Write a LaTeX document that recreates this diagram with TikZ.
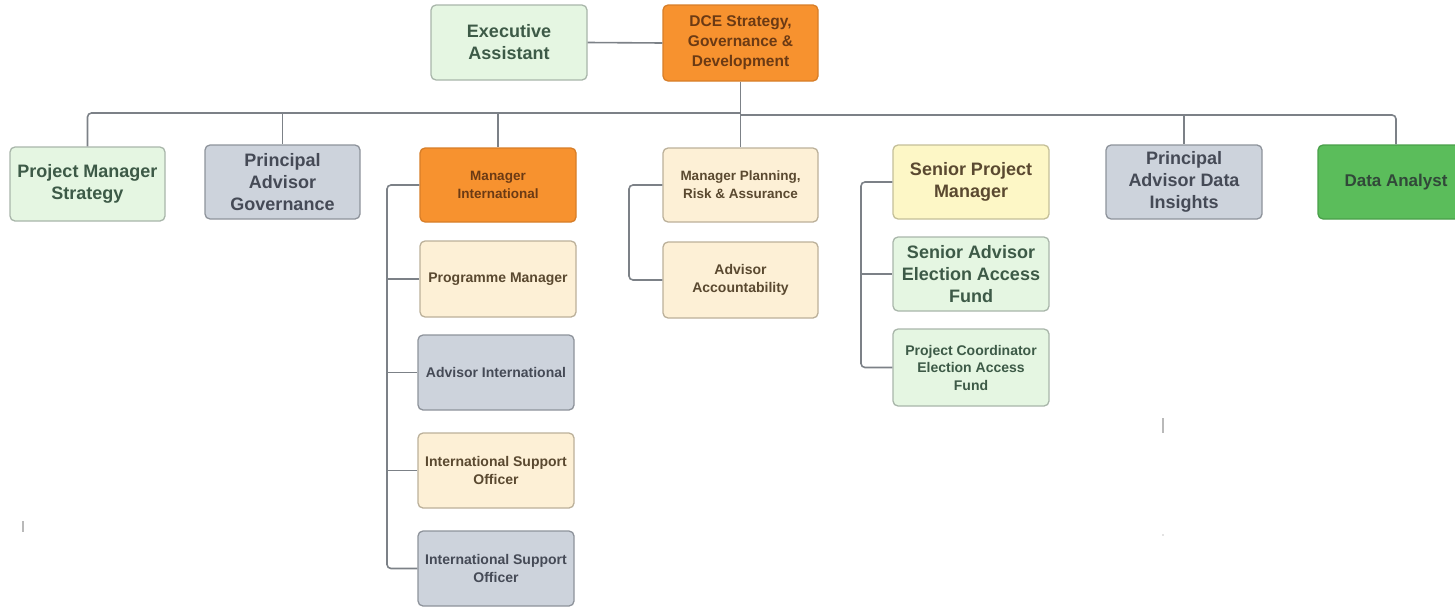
\documentclass[tikz,border=0pt]{standalone}
\usepackage{fontspec}
\setmainfont{Liberation Sans}
\usetikzlibrary{calc}

% fills, borders and text colours
\definecolor{fillgreen}{HTML}{E5F6E2}
\definecolor{fillgray}{HTML}{CDD3DC}
\definecolor{fillorange}{HTML}{F7922F}
\definecolor{fillbeige}{HTML}{FDF0D6}
\definecolor{fillyellow}{HTML}{FDF7C6}
\definecolor{fillgreendark}{HTML}{5BBD5B}
\definecolor{edgegreen}{HTML}{A9B6AA}
\definecolor{edgegray}{HTML}{8E939B}
\definecolor{edgeorange}{HTML}{D77E28}
\definecolor{edgebeige}{HTML}{BBB09A}
\definecolor{edgeyellow}{HTML}{C4BF98}
\definecolor{edgegreendark}{HTML}{4A9F4A}
\definecolor{txtgreen}{HTML}{3D5A47}
\definecolor{txtgray}{HTML}{454A56}
\definecolor{txtbrown}{HTML}{5A4930}
\definecolor{txtorange}{HTML}{6B3A14}
\definecolor{linegray}{HTML}{7C8187}

\tikzset{
  box/.style={draw, rounded corners=5pt, line width=1.3pt, align=center,
    minimum width=156pt, minimum height=75pt, inner sep=2pt},
  big/.style={font=\fontsize{18}{22}\selectfont\bfseries},
  small/.style={font=\fontsize{14}{17.5}\selectfont\bfseries},
  greenbox/.style={box, fill=fillgreen, draw=edgegreen, text=txtgreen},
  graybox/.style={box, fill=fillgray, draw=edgegray, text=txtgray},
  orangebox/.style={box, fill=fillorange, draw=edgeorange, text=txtorange},
  beigebox/.style={box, fill=fillbeige, draw=edgebeige, text=txtbrown},
  yellowbox/.style={box, fill=fillyellow, draw=edgeyellow, text=txtbrown},
  darkgreenbox/.style={box, fill=fillgreendark, draw=edgegreendark, text=txtgreen!80!black},
  conn/.style={draw=linegray, line width=1.6pt, rounded corners=4pt},
  speck/.style={draw=gray!55, line width=1.5pt}
}

\begin{document}
\begin{tikzpicture}[x=1pt, y=-1pt]
\useasboundingbox (0,0) rectangle (1455,608);

% top of the chart
\node[greenbox, big] (ea) at (509,42.5) {Executive\\Assistant};
\node[orangebox, font=\fontsize{15.5}{20}\selectfont\bfseries, minimum width=155pt, minimum height=76pt] (dce) at (740.5,43) {DCE Strategy,\\Governance \&\\Development};

% direct reports
\node[greenbox, big, minimum width=155pt, minimum height=74pt] (pms) at (87.5,184) {Project Manager\\Strategy};
\node[graybox, big, minimum width=155pt, minimum height=74pt] (pag) at (282.5,182) {Principal\\Advisor\\Governance};
\node[orangebox, font=\fontsize{13.5}{18}\selectfont\bfseries, minimum height=74pt] (mi) at (498,185) {Manager\\International};
\node[beigebox, font=\fontsize{13.5}{18}\selectfont\bfseries, minimum width=155pt, minimum height=74pt] (mpra) at (740.5,185) {Manager Planning,\\Risk \& Assurance};
\node[yellowbox, big, minimum height=74pt] (spm) at (971,182) {Senior Project\\Manager};
\node[graybox, big, minimum height=74pt] (padi) at (1184,182) {Principal\\Advisor Data\\Insights};
\node[darkgreenbox, font=\fontsize{17}{21}\selectfont\bfseries, minimum height=74pt] (da) at (1396,182) {Data Analyst};

% international team
\node[beigebox, small, minimum height=76pt] (pm) at (498,279) {Programme Manager};
\node[graybox, small] (ai) at (496,372.5) {Advisor International};
\node[beigebox, small] (iso1) at (496,470.5) {International Support\\Officer};
\node[graybox, small] (iso2) at (496,568.5) {International Support\\Officer};

% planning team
\node[beigebox, small, minimum width=155pt, minimum height=76pt] (aa) at (740.5,280) {Advisor\\Accountability};

% election access fund team
\node[greenbox, big, minimum height=74pt] (saeaf) at (971,274) {Senior Advisor\\Election Access\\Fund};
\node[greenbox, small, minimum height=77pt] (pceaf) at (971,367.5) {Project Coordinator\\Election Access\\Fund};

% bus coordinates
\coordinate (hubL) at (740.5,113);
\coordinate (hubR) at (740.5,115);
\coordinate (mitrunk) at (387,0);
\coordinate (mptrunk) at (629,0);
\coordinate (sptrunk) at (861,0);

% connectors
\draw[conn] (ea.east) -- (dce.west);
\draw[conn] (dce.south) -- (mpra.north);
\draw[conn] (hubL) -| (pms.north);
\draw[conn] (pag.north |- hubL) -- (pag.north);
\draw[conn] (mi.north |- hubL) -- (mi.north);
\draw[conn] (hubR) -| (da.north);
\draw[conn] (padi.north |- hubR) -- (padi.north);

\draw[conn] (mi.west) -| (mitrunk |- iso2.west) -- (iso2.west);
\draw[conn] (mitrunk |- pm.west) -- (pm.west);
\draw[conn] (mitrunk |- ai.west) -- (ai.west);
\draw[conn] (mitrunk |- iso1.west) -- (iso1.west);

\draw[conn] (mpra.west) -| (mptrunk |- aa.west) -- (aa.west);

\draw[conn] (spm.west) -| (sptrunk |- pceaf.west) -- (pceaf.west);
\draw[conn] (sptrunk |- saeaf.west) -- (saeaf.west);

% stray marks
\draw[speck] (1163,418) -- (1163,433);
\draw[speck] (23,521) -- (23,532);
\fill[gray!45] (1163,535) circle (0.9pt);
\end{tikzpicture}
\end{document}
